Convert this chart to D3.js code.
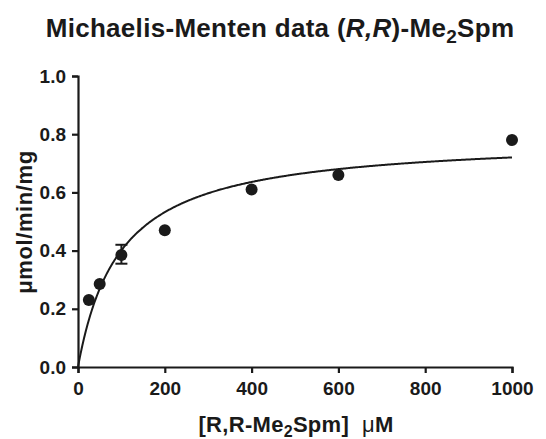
<!DOCTYPE html>
<html>
<head>
<meta charset="utf-8">
<script src="https://cdn.jsdelivr.net/npm/d3@7"></script>
<style>
  body { margin: 0; background: #fff; }
  text { font-family: "Liberation Sans", Arial, sans-serif; font-weight: bold; fill: #1a1a1a; }
</style>
</head>
<body>
<div id="vis"></div>
<script>
// measured data
var concentrations = [25, 50, 100, 200, 400, 600, 1000];
var rates = [0.23, 0.285, 0.385, 0.47, 0.61, 0.66, 0.78];
var errLow = [null, null, 0.355, null, null, null, null];
var errHigh = [null, null, 0.42, null, null, null, null];

// fitted Michaelis-Menten parameters
var vmax = 0.79;
var km = 97;

var xTicks = [0, 200, 400, 600, 800, 1000];
var yTicks = [0.0, 0.2, 0.4, 0.6, 0.8, 1.0];

var width = 546, height = 439;
var margin = { top: 76, left: 78, bottom: 72, right: 34 };

var svg = d3.select('#vis').append('svg')
  .attr('width', width)
  .attr('height', height);

var x = d3.scaleLinear().domain([0, 1000]).range([margin.left, width - margin.right]);
var y = d3.scaleLinear().domain([0, 1]).range([height - margin.bottom, margin.top]);

// title
var title = svg.append('text')
  .attr('x', 280)
  .attr('y', 37)
  .attr('text-anchor', 'middle')
  .style('font-size', '26px')
  .style('letter-spacing', '0.3px');
title.append('tspan').text('Michaelis-Menten data (');
title.append('tspan').style('font-style', 'italic').text('R,R');
title.append('tspan').text(')-Me');
title.append('tspan').attr('dy', 6).style('font-size', '19px').text('2');
title.append('tspan').attr('dy', -6).text('Spm');

// axes
var xAxis = d3.axisBottom(x).tickValues(xTicks).tickSize(6).tickPadding(9).tickFormat(d3.format('d'));
var yAxis = d3.axisLeft(y).tickValues(yTicks).tickSize(6).tickPadding(6).tickFormat(d3.format('.1f'));

var gx = svg.append('g')
  .attr('transform', 'translate(0,' + y(0) + ')')
  .call(xAxis);
var gy = svg.append('g')
  .attr('transform', 'translate(' + x(0) + ',0)')
  .call(yAxis);

[gx, gy].forEach(function(g) {
  g.select('.domain').attr('stroke', '#1a1a1a').attr('stroke-width', 2.2);
  g.selectAll('.tick line').attr('stroke', '#1a1a1a').attr('stroke-width', 2.2);
  g.selectAll('.tick text')
    .style('font-size', '19px')
    .style('font-family', '"Liberation Sans", Arial, sans-serif')
    .style('font-weight', 'bold')
    .attr('fill', '#1a1a1a');
});

// axis labels
var xl = svg.append('text')
  .attr('x', 296)
  .attr('y', 432)
  .attr('text-anchor', 'middle')
  .style('font-size', '22px')
  .style('letter-spacing', '0.3px');
xl.append('tspan').text('[R,R-Me');
xl.append('tspan').attr('dy', 5).style('font-size', '16px').text('2');
xl.append('tspan').attr('dy', -5).text('Spm]\u00a0\u00a0');
xl.append('tspan').style('font-weight', 'normal').text('\u03bc');
xl.append('tspan').text('M');

svg.append('text')
  .attr('transform', 'translate(32,' + 222 + ') rotate(-90)')
  .attr('text-anchor', 'middle')
  .style('font-size', '22px')
  .style('letter-spacing', '0.6px')
  .text('\u03bcmol/min/mg');

// fitted curve
var curveX = d3.range(0, 1000.5, 2);
var line = d3.line()
  .x(function(d) { return x(d); })
  .y(function(d) { return y(vmax * d / (km + d)); });

svg.append('path')
  .datum(curveX)
  .attr('d', line)
  .attr('fill', 'none')
  .attr('stroke', '#1a1a1a')
  .attr('stroke-width', 2);

// error bars
var data = concentrations.map(function(c, i) {
  return { x: c, y: rates[i], lo: errLow[i], hi: errHigh[i] };
});

var eb = svg.selectAll('.err')
  .data(data.filter(function(d) { return d.lo !== null; }))
  .enter().append('g').attr('class', 'err');
eb.append('line')
  .attr('x1', function(d) { return x(d.x); })
  .attr('x2', function(d) { return x(d.x); })
  .attr('y1', function(d) { return y(d.lo); })
  .attr('y2', function(d) { return y(d.hi); })
  .attr('stroke', '#1a1a1a').attr('stroke-width', 2);
[ 'lo', 'hi' ].forEach(function(k) {
  eb.append('line')
    .attr('x1', function(d) { return x(d.x) - 6; })
    .attr('x2', function(d) { return x(d.x) + 6; })
    .attr('y1', function(d) { return y(d[k]); })
    .attr('y2', function(d) { return y(d[k]); })
    .attr('stroke', '#1a1a1a').attr('stroke-width', 2);
});

// points
svg.selectAll('.pt')
  .data(data)
  .enter().append('circle')
  .attr('class', 'pt')
  .attr('cx', function(d) { return x(d.x); })
  .attr('cy', function(d) { return y(d.y); })
  .attr('r', 6)
  .attr('fill', '#1a1a1a');
</script>
</body>
</html>
